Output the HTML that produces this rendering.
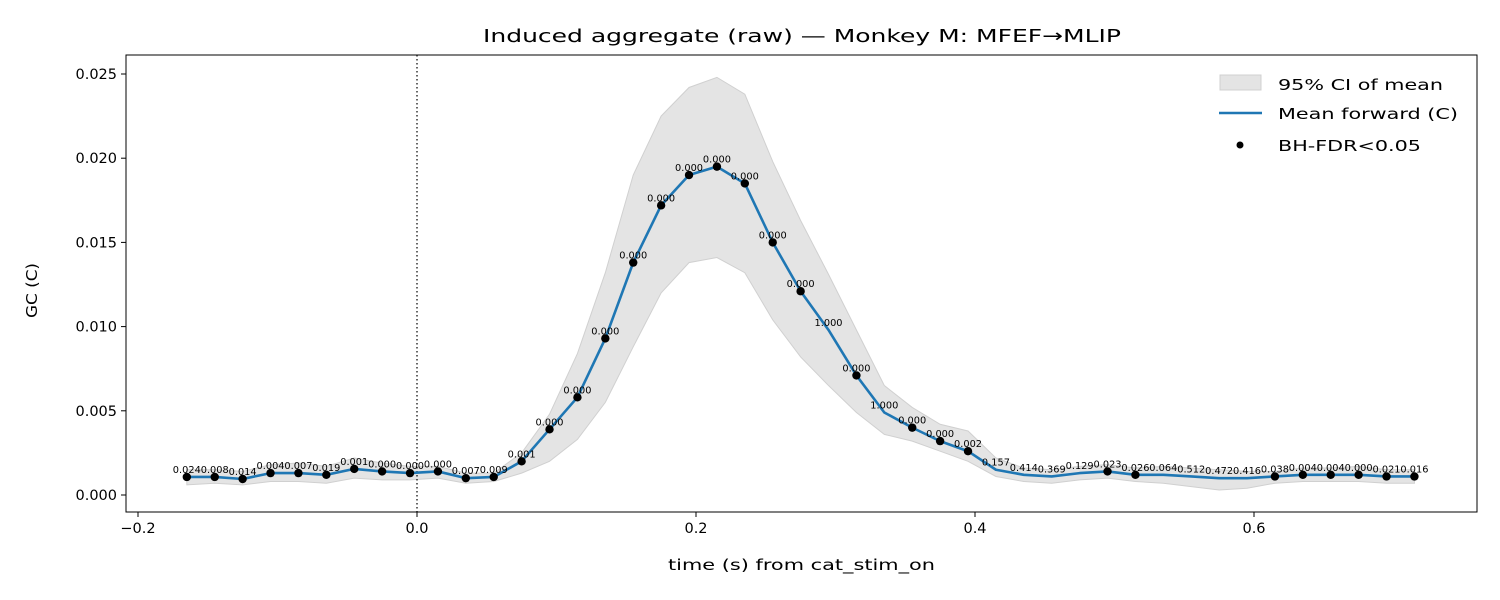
<!DOCTYPE html>
<html><head><meta charset="utf-8"><style>
body{margin:0;background:#fff;}
svg{display:block;font-family:"DejaVu Sans","Liberation Sans",sans-serif;}
</style></head><body>
<svg id="chart" width="1500" height="600" xmlns="http://www.w3.org/2000/svg">
<rect width="1500" height="600" fill="#fff"/>
<text x="483" y="42" font-size="18" textLength="638" lengthAdjust="spacingAndGlyphs">Induced aggregate (raw) — Monkey M: MFEF→MLIP</text>
<g id="plot"></g>
<rect x="126" y="55" width="1351" height="457" fill="none" stroke="#000" stroke-width="1"/>
<text x="668" y="570" font-size="15" textLength="267" lengthAdjust="spacingAndGlyphs">time (s) from cat_stim_on</text>
<text transform="translate(37,318) rotate(-90)" font-size="15" textLength="55" lengthAdjust="spacingAndGlyphs">GC (C)</text>
<g>
<rect x="1220" y="75" width="41" height="15" fill="#e4e4e4" stroke="#d0d0d0"/>
<text x="1278" y="90" font-size="15.5" textLength="165" lengthAdjust="spacingAndGlyphs">95% CI of mean</text>
<line x1="1219" y1="113" x2="1262" y2="113" stroke="#1f77b4" stroke-width="2.5"/>
<text x="1278" y="119" font-size="15.5" textLength="180" lengthAdjust="spacingAndGlyphs">Mean forward (C)</text>
<circle cx="1240" cy="145" r="3.5" fill="#000"/>
<text x="1278" y="151" font-size="15.5" textLength="143" lengthAdjust="spacingAndGlyphs">BH-FDR&lt;0.05</text>
</g>
</svg>
<script>
const times=[-0.165,-0.145,-0.125,-0.105,-0.085,-0.065,-0.045,-0.025,-0.005,0.015,0.035,0.055,0.075,0.095,0.115,0.135,0.155,0.175,0.195,0.215,0.235,0.255,0.275,0.295,0.315,0.335,0.355,0.375,0.395,0.415,0.435,0.455,0.475,0.495,0.515,0.535,0.555,0.575,0.595,0.615,0.635,0.655,0.675,0.695,0.715];
const meanVals=[0.00107,0.00107,0.00095,0.0013,0.0013,0.0012,0.00155,0.0014,0.0013,0.0014,0.001,0.00107,0.002,0.0039,0.0058,0.0093,0.0138,0.0172,0.0190,0.0195,0.0185,0.0150,0.0121,0.0098,0.0071,0.0049,0.0040,0.0032,0.0026,0.0015,0.0012,0.0011,0.0013,0.0014,0.0012,0.0012,0.0011,0.001,0.001,0.0011,0.0012,0.0012,0.0012,0.0011,0.0011];
const ciUpper=[0.0015,0.0015,0.0014,0.0018,0.0019,0.0017,0.0022,0.0019,0.0017,0.0017,0.0013,0.0013,0.0025,0.0048,0.0084,0.0132,0.019,0.0225,0.0242,0.0248,0.0238,0.0198,0.0163,0.0131,0.0098,0.0065,0.0052,0.0042,0.0038,0.0022,0.0016,0.0015,0.0017,0.0018,0.0016,0.0017,0.0016,0.0015,0.0014,0.0014,0.0016,0.0016,0.0017,0.0015,0.0015];
const ciLower=[0.0006,0.0007,0.0006,0.0008,0.0008,0.0007,0.001,0.0009,0.0009,0.001,0.0007,0.0008,0.0013,0.002,0.0033,0.0055,0.0088,0.012,0.0138,0.0141,0.0132,0.0104,0.0082,0.0065,0.0049,0.0036,0.0032,0.0026,0.002,0.0011,0.0008,0.0007,0.0009,0.001,0.0008,0.0007,0.0005,0.0003,0.0004,0.0007,0.0008,0.0008,0.0008,0.0007,0.0007];
const pLabels=["0.024","0.008","0.014","0.004","0.007","0.019","0.001","0.000","0.000","0.000","0.007","0.009","0.001","0.000","0.000","0.000","0.000","0.000","0.000","0.000","0.000","0.000","0.000","1.000","0.000","1.000","0.000","0.000","0.002","0.157","0.414","0.369","0.129","0.023","0.026","0.064","0.512","0.472","0.416","0.038","0.004","0.004","0.000","0.021","0.016"];
const xTicks=[-0.2,0,0.2,0.4,0.6];
const xTickLabels=["−0.2","0.0","0.2","0.4","0.6"];
const yTicks=[0,0.005,0.01,0.015,0.02,0.025];
const yTickLabels=["0.000","0.005","0.010","0.015","0.020","0.025"];

const NS="http://www.w3.org/2000/svg";
const X=t=>417+t*1395;
const Y=v=>495-v*16840;
const g=document.getElementById('plot');
function mk(tag,attrs){const e=document.createElementNS(NS,tag);for(const k in attrs)e.setAttribute(k,attrs[k]);g.appendChild(e);return e;}

let d='';
times.forEach((t,i)=>{d+=(i?'L':'M')+X(t)+','+Y(ciUpper[i]);});
for(let i=times.length-1;i>=0;i--)d+='L'+X(times[i])+','+Y(ciLower[i]);
const band=mk('path',{d:d+'Z',fill:'#e4e4e4',stroke:'#d0d0d0','stroke-width':1});



const zl=mk('line',{x1:X(0),x2:X(0),y1:55,y2:512,stroke:'#000','stroke-width':1.2,'stroke-dasharray':'1.5,2.5'});



const ml=mk('polyline',{points:times.map((t,i)=>X(t)+','+Y(meanVals[i])).join(' '),fill:'none',stroke:'#1f77b4','stroke-width':2.6,'stroke-linejoin':'round'});



times.forEach((t,i)=>{
  if(parseFloat(pLabels[i])<0.05){
    const c=mk('circle',{cx:X(t),cy:Y(meanVals[i]),r:4.2,fill:'#000'});
    
    
  }
  const tx=mk('text',{x:X(t)-14,y:Y(meanVals[i])-4,'font-size':9.5,textLength:28,lengthAdjust:'spacingAndGlyphs'});
  tx.textContent=pLabels[i];
  
  
});

xTicks.forEach((t,i)=>{
  const l=mk('line',{x1:X(t),x2:X(t),y1:512,y2:517,stroke:'#000'});
  
  
  const tx=mk('text',{x:X(t),y:533,'font-size':14.5,'text-anchor':'middle'});
  tx.textContent=xTickLabels[i];
  
  
});
yTicks.forEach((v,i)=>{
  const l=mk('line',{x1:121,x2:126,y1:Y(v),y2:Y(v),stroke:'#000'});
  
  
  const tx=mk('text',{x:117,y:Y(v)+5,'font-size':14.5,'text-anchor':'end'});
  tx.textContent=yTickLabels[i];
  
  
});
</script>
</body></html>
